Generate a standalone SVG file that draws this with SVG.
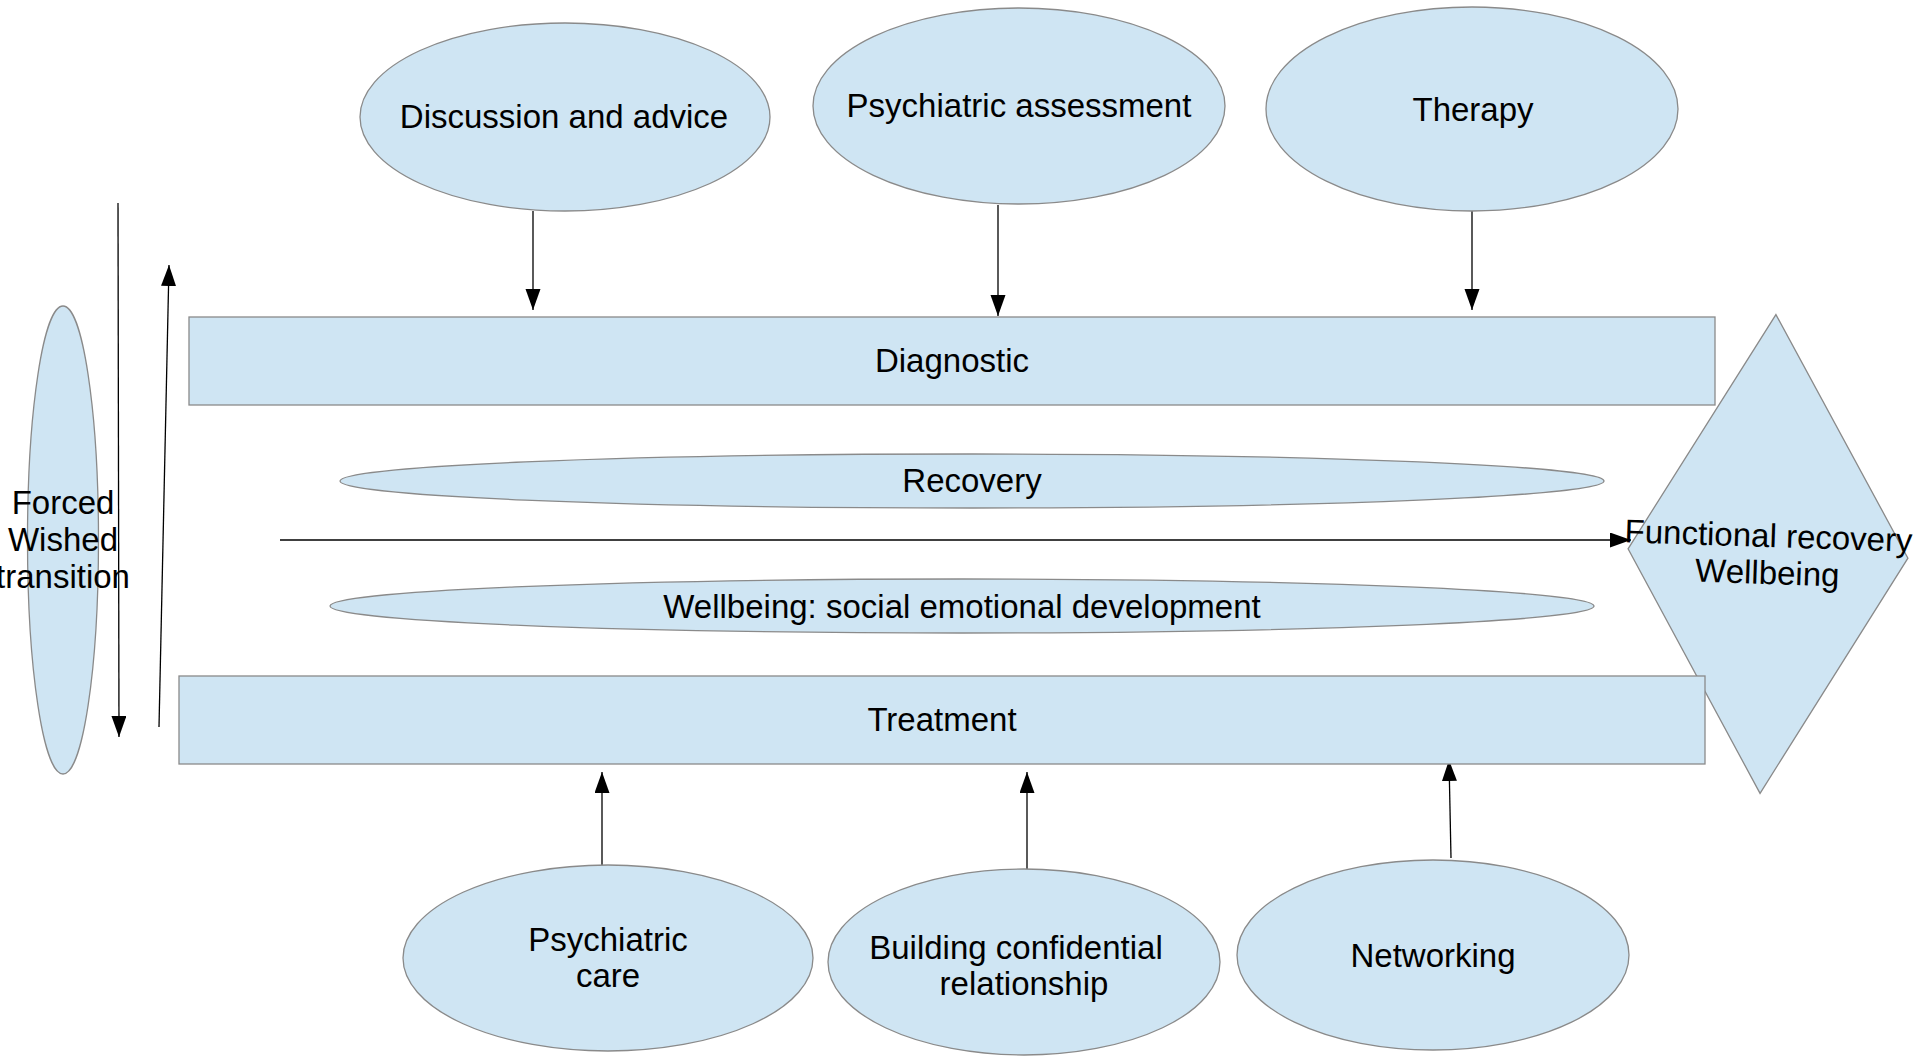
<svg xmlns="http://www.w3.org/2000/svg" width="1920" height="1060" viewBox="0 0 1920 1060">
  <defs>
    <marker id="arrow" markerUnits="userSpaceOnUse" markerWidth="22" markerHeight="16" refX="21" refY="7.5" orient="auto">
      <path d="M0,0 L21,7.5 L0,15 z" fill="#000"/>
    </marker>
    <style>
      .shape { fill: #cfe5f3; stroke: #8a8a8a; stroke-width: 1.3; }
      .lbl { font-family: "Liberation Sans", Arial, sans-serif; font-size: 33px; fill: #000; text-anchor: middle; }
      .conn { fill: none; stroke: #000; stroke-width: 1.3; marker-end: url(#arrow); }
    </style>
  </defs>

  <rect width="1920" height="1060" fill="#fff"/>

  <!-- connectors -->
  <g id="connectors">
    <line class="conn" x1="533" y1="211" x2="533" y2="310"/>
    <line class="conn" x1="998" y1="205" x2="998" y2="316"/>
    <line class="conn" x1="1472" y1="211" x2="1472" y2="310"/>
    <line class="conn" x1="602" y1="865" x2="602" y2="772"/>
    <line class="conn" x1="1027" y1="869" x2="1027" y2="772"/>
    <line class="conn" x1="1451" y1="858" x2="1449" y2="760"/>
    <line class="conn" x1="280" y1="540" x2="1631" y2="540"/>
    <line class="conn" x1="118" y1="203" x2="119" y2="737"/>
    <line class="conn" x1="159" y1="727" x2="169" y2="265"/>
  </g>

  <!-- top inputs -->
  <g id="discussion">
    <ellipse class="shape" cx="565" cy="117" rx="205" ry="94"/>
    <text class="lbl" x="564" y="128">Discussion and advice</text>
  </g>
  <g id="assessment">
    <ellipse class="shape" cx="1019" cy="106" rx="206" ry="98"/>
    <text class="lbl" x="1019" y="117">Psychiatric assessment</text>
  </g>
  <g id="therapy">
    <ellipse class="shape" cx="1472" cy="109" rx="206" ry="102"/>
    <text class="lbl" x="1473" y="121">Therapy</text>
  </g>

  <!-- outcome diamond -->
  <g id="outcome" transform="rotate(1.9 1768 553.5)">
    <polygon class="shape" points="1768,314.5 1908,553.5 1768,793.5 1628,553.5"/>
    <text class="lbl" x="1768" y="547">Functional recovery</text>
    <text class="lbl" x="1768" y="584">Wellbeing</text>
  </g>

  <!-- central bands -->
  <g id="diagnostic">
    <rect class="shape" x="189" y="317" width="1526" height="88"/>
    <text class="lbl" x="952" y="372">Diagnostic</text>
  </g>
  <g id="recovery">
    <ellipse class="shape" cx="972" cy="481" rx="632" ry="27"/>
    <text class="lbl" x="972" y="492">Recovery</text>
  </g>
  <g id="wellbeing">
    <ellipse class="shape" cx="962" cy="606" rx="632" ry="27"/>
    <text class="lbl" x="962" y="618">Wellbeing: social emotional development</text>
  </g>
  <g id="treatment">
    <rect class="shape" x="179" y="676" width="1526" height="88"/>
    <text class="lbl" x="942" y="731">Treatment</text>
  </g>

  <!-- transition -->
  <g id="transition">
    <ellipse class="shape" cx="63" cy="540" rx="35.5" ry="234"/>
    <text class="lbl" x="63" y="514">Forced</text>
    <text class="lbl" x="63" y="551">Wished</text>
    <text class="lbl" x="63" y="588">transition</text>
  </g>

  <!-- bottom inputs -->
  <g id="psychiatric-care">
    <ellipse class="shape" cx="608" cy="958" rx="205" ry="93"/>
    <text class="lbl" x="608" y="951">Psychiatric</text>
    <text class="lbl" x="608" y="987">care</text>
  </g>
  <g id="building">
    <ellipse class="shape" cx="1024" cy="962" rx="196" ry="93"/>
    <text class="lbl" x="1016" y="959">Building confidential</text>
    <text class="lbl" x="1024" y="995">relationship</text>
  </g>
  <g id="networking">
    <ellipse class="shape" cx="1433" cy="955" rx="196" ry="95"/>
    <text class="lbl" x="1433" y="967">Networking</text>
  </g>
</svg>
